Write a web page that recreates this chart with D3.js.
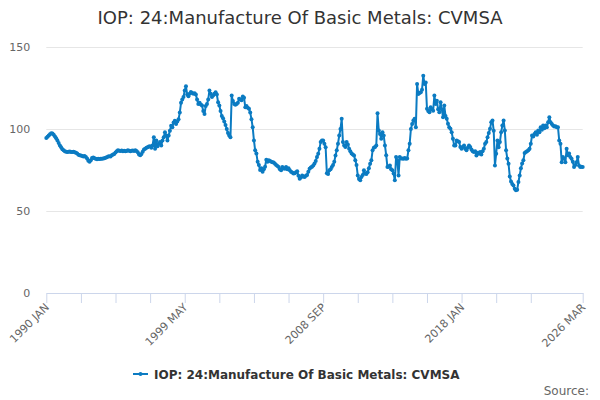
<!DOCTYPE html>
<html>
<head>
<meta charset="utf-8">
<script src="https://cdn.jsdelivr.net/npm/d3@7"></script>
<style>
  body { margin: 0; background: #fff; }
  text { font-family: "DejaVu Sans", sans-serif; }
</style>
</head>
<body>
<div id="chart"></div>
<script>
// Setting up constant variables
const FRAME_HEIGHT = 400;
const FRAME_WIDTH = 600;
const MARGINS = {left: 46.3, right: 17.3, top: 47, bottom: 107};

const VIS_HEIGHT = FRAME_HEIGHT - MARGINS.top - MARGINS.bottom;
const VIS_WIDTH = FRAME_WIDTH - MARGINS.left - MARGINS.right;

const LINE_COLOR = "#0b7bc2";

// data (monthly, 1990 JAN - 2026 MAR)
const START_YEAR = 1990;
const MONTHS = ["JAN", "FEB", "MAR", "APR", "MAY", "JUN",
                "JUL", "AUG", "SEP", "OCT", "NOV", "DEC"];

const values_1990s = [
  94.5, 95.3, 96, 96.8, 97.4, 97.2, 96.5, 95.5, 94.3, 93, 91.5, 90,
  88.8, 87.6, 87, 86.5, 86.2, 86, 86.1, 86.3, 86, 85.9, 86.1, 85.8,
  85.5, 85, 84.3, 84, 83.8, 83.5, 83.3, 83.6, 83, 82, 80.6, 80.1,
  81, 82.3, 82.6, 82.2, 81.9, 81.6, 81.8, 81.7, 81.9, 81.8, 82, 82.2,
  82.4, 82.8, 83.2, 83.4, 83.3, 84, 84.5, 84.8, 85.6, 86.4, 87, 86.8,
  86.6, 86.9, 86.5, 86.7, 86.4, 86.6, 87, 86.8, 86.5, 86.7, 86.9, 86.6,
  87, 86.6, 85.8, 84.5, 84, 84.8, 86.2, 87.5, 88, 88.6, 88.9, 89.3,
  89.5, 88.5, 90, 95, 88, 93, 89.5, 91, 92, 90, 93, 95,
  98, 96, 93, 96, 99, 102, 101, 104, 105, 103, 104.5, 106,
  110, 116, 118, 119.5, 123.5, 126, 121, 120, 121.5, 122.5, 122, 121.5
];

const values_2000s = [
  121.8, 121, 118, 115.3, 116, 115, 114.3, 111, 109.2, 114, 115.3, 118,
  123.4, 121.5, 119.5, 120.4, 121.5, 122.4, 121, 116.3, 114.3, 111, 108, 106.5,
  104.5, 102.5, 100, 97.5, 96, 95, 120.4, 117, 115.3, 114.8, 115.3, 116,
  118.4, 118, 117.5, 119.8, 119, 113.3, 114, 113, 112.3, 110, 106, 101,
  93, 87, 85, 80, 78, 75, 76, 74, 75.5, 77, 81.3, 80,
  81, 80.5, 80, 79.8, 79.5, 78.8, 78, 77.5, 76.8, 75.5, 74.8, 76.8,
  76, 75.8, 76.8, 75.5, 76, 74.8, 74, 73.5, 72.8, 73, 73.7, 74.2,
  71.5, 69.7, 70.5, 71.7, 71, 70.7, 71.5, 72, 74, 75.8, 76.5, 77,
  77.8, 79, 80.5, 82.9, 84.9, 88, 92, 93, 93, 91, 88.9, 73,
  72.5, 74.8, 75.5, 76.8, 78, 80, 83.9, 87, 91, 96, 100, 106.2
];

const values_2010s = [
  92, 90, 89, 92, 90.5, 88, 86.5, 85, 84.5, 83.9, 81, 78,
  71.7, 69.5, 68.7, 70.7, 72, 74.8, 72.8, 72.5, 73.7, 76, 78.8, 80.9,
  87, 88.6, 89, 90, 109.6, 99.1, 97, 94, 98, 96, 90, 84,
  76.8, 77, 77.8, 75.5, 74.8, 72.8, 68.7, 82.9, 80.9, 71.7, 82.9, 82,
  82, 81.9, 82.3, 81.9, 82, 87, 91, 100, 103, 105.2, 106.2, 101,
  127.5, 121.4, 122, 122.4, 124, 132.5, 127.5, 128.4, 112.3, 111, 110.2, 113.3,
  112, 111.2, 120.4, 115.3, 117.3, 112, 110.2, 116.3, 112, 107.2, 114.3, 108,
  106.2, 103.2, 101, 100.1, 98, 94, 90, 90, 93, 92.5, 92, 89,
  88, 89, 90, 88, 87, 88.5, 90, 89, 87.5, 86.5, 85.9, 86.5,
  83.9, 85.5, 84.9, 86, 84.5, 86.5, 88, 91, 92, 95, 97.5, 100.1
];

const values_2020s = [
  104.1, 105.2, 99, 77.8, 84.9, 93, 88.9, 92, 98, 102.1, 105.2, 99.1,
  87, 82, 78.8, 71, 68, 66.5, 65.5, 63.6, 62.6, 63, 67.7, 71.7,
  76, 79, 80.9, 85.3, 86, 86.5, 87, 88, 91, 96, 95.5, 97,
  98, 96.5, 99.1, 98, 101, 99.5, 102.1, 100.5, 102.1, 101, 104.1, 107.2,
  104.1, 103, 102.1, 101.5, 101.7, 101, 101, 93, 91, 79.8, 83, 81.9,
  79.8, 88, 84, 85, 83, 81.9, 80, 76.8, 78, 79.8, 82.9, 77.8,
  76.8, 77, 76.8
];

const values = values_1990s.concat(values_2000s, values_2010s, values_2020s);

const categories = values.map((v, i) =>
  (START_YEAR + Math.floor(i / 12)) + " " + MONTHS[i % 12]);

const TICK_STEP = 28;
const TICK_LABELS = ["1990 JAN", "1999 MAY", "2008 SEP", "2018 JAN", "2026 MAR"];
const Y_TICKS = [0, 50, 100, 150];

const TITLE = "IOP: 24:Manufacture Of Basic Metals: CVMSA";
const SERIES_NAME = "IOP: 24:Manufacture Of Basic Metals: CVMSA";

const FRAME = d3.select("#chart")
  .append("svg")
    .attr("width", FRAME_WIDTH)
    .attr("height", FRAME_HEIGHT);

const X_SCALE = d3.scalePoint()
  .domain(categories)
  .range([MARGINS.left, MARGINS.left + VIS_WIDTH]);

const Y_SCALE = d3.scaleLinear()
  .domain([0, 150])
  .range([MARGINS.top + VIS_HEIGHT, MARGINS.top]);

// title
FRAME.append("text")
  .attr("x", FRAME_WIDTH / 2)
  .attr("y", 23.5)
  .attr("text-anchor", "middle")
  .style("font-size", "18px")
  .style("fill", "#333333")
  .text(TITLE);

// y gridlines + labels
const yAxis = FRAME.append("g")
  .attr("transform", "translate(" + MARGINS.left + ",0)")
  .call(d3.axisLeft(Y_SCALE).tickValues(Y_TICKS).tickSize(-VIS_WIDTH).tickPadding(16));
yAxis.select(".domain").remove();
yAxis.selectAll(".tick line")
  .attr("stroke", d => d === 0 ? "none" : "#e6e6e6");
yAxis.selectAll(".tick text")
  .style("font-size", "11px")
  .style("font-family", "DejaVu Sans, sans-serif")
  .style("fill", "#666666");

// x axis
const tickCats = categories.filter((c, i) => i % TICK_STEP === 0 && i <= 392);
tickCats.push(categories[categories.length - 1]);

const xAxis = FRAME.append("g")
  .attr("transform", "translate(0," + (MARGINS.top + VIS_HEIGHT) + ")")
  .call(d3.axisBottom(X_SCALE).tickValues(tickCats).tickSize(10).tickSizeOuter(0)
        .tickFormat(d => TICK_LABELS.includes(d) ? d : ""));
xAxis.select(".domain").attr("stroke", "#ccd6eb");
xAxis.selectAll(".tick line").attr("stroke", "#ccd6eb");
xAxis.selectAll(".tick text")
  .attr("text-anchor", "end")
  .attr("transform", "translate(3,15) rotate(-45)")
  .attr("x", 0)
  .attr("y", 0)
  .attr("dy", 0)
  .style("font-size", "11px")
  .style("font-family", "DejaVu Sans, sans-serif")
  .style("fill", "#666666");

// line
const LINE = d3.line()
  .x((d, i) => X_SCALE(categories[i]))
  .y(d => Y_SCALE(d));

FRAME.append("path")
  .datum(values)
  .attr("fill", "none")
  .attr("stroke", LINE_COLOR)
  .attr("stroke-width", 2)
  .attr("stroke-linejoin", "round")
  .attr("d", LINE);

FRAME.selectAll(".pt")
  .data(values)
  .enter().append("circle")
    .attr("class", "pt")
    .attr("cx", (d, i) => X_SCALE(categories[i]))
    .attr("cy", d => Y_SCALE(d))
    .attr("r", 2)
    .attr("fill", LINE_COLOR);

// legend
const LEG = FRAME.append("g").attr("transform", "translate(133,374)");
LEG.append("line")
  .attr("x1", 0).attr("x2", 15).attr("y1", 0).attr("y2", 0)
  .attr("stroke", LINE_COLOR).attr("stroke-width", 2);
LEG.append("circle").attr("cx", 7.5).attr("cy", 0).attr("r", 2).attr("fill", LINE_COLOR);
LEG.append("text")
  .attr("x", 21)
  .attr("y", 4.5)
  .style("font-size", "12px")
  .style("font-weight", "bold")
  .style("fill", "#333333")
  .text(SERIES_NAME);

// source
FRAME.append("text")
  .attr("x", 589)
  .attr("y", 395)
  .attr("text-anchor", "end")
  .style("font-size", "12px")
  .style("fill", "#666666")
  .text("Source:");
</script>
</body>
</html>
